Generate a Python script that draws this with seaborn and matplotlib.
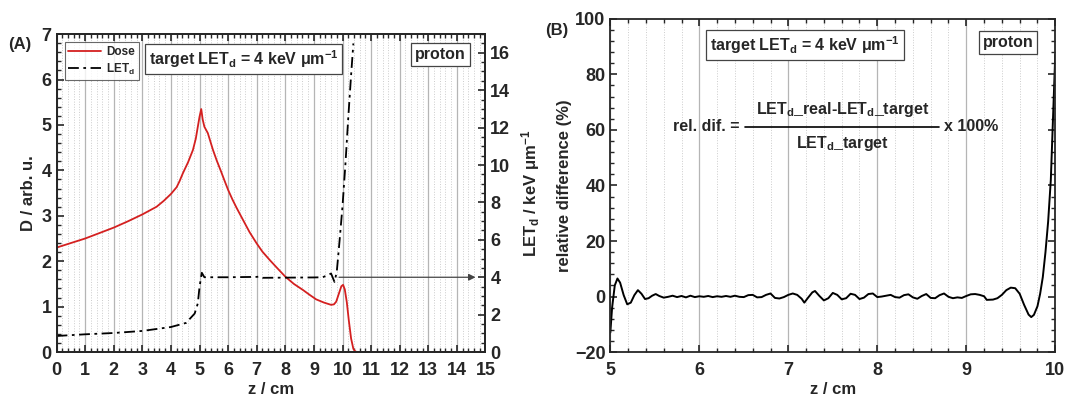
#importing the libraries
import numpy as np
import pandas as pd
import matplotlib
matplotlib.use('Agg')
import matplotlib.pyplot as plt
from matplotlib.ticker import MultipleLocator, AutoMinorLocator
from matplotlib.lines import Line2D
import seaborn as sns

#depth dose curve (panel A)
z_dose = [0, 0.5, 1, 1.5, 2, 2.5, 3, 3.5, 3.75, 4, 4.2, 4.3, 4.42, 4.6, 4.77, 4.87, 4.94, 5.0, 5.06, 5.11,
          5.17, 5.29, 5.47, 5.6, 5.75, 5.87, 6.0, 6.15, 6.3, 6.52, 6.75, 7.0, 7.2, 7.45, 7.7, 8.0, 8.3,
          8.61, 8.85, 9.08, 9.35, 9.6, 9.7, 9.78, 9.88, 9.96, 10.02, 10.08, 10.15, 10.22, 10.3, 10.38,
          10.45, 10.55, 11, 12, 13, 14, 15]
dose = [2.30, 2.40, 2.50, 2.62, 2.74, 2.88, 3.03, 3.20, 3.33, 3.48, 3.63, 3.76, 3.94, 4.18, 4.45, 4.70,
        4.96, 5.18, 5.35, 5.12, 4.96, 4.82, 4.45, 4.22, 3.98, 3.78, 3.57, 3.36, 3.17, 2.91, 2.64, 2.39,
        2.21, 2.03, 1.86, 1.66, 1.50, 1.37, 1.26, 1.16, 1.09, 1.04, 1.05, 1.11, 1.30, 1.45, 1.48, 1.38,
        1.10, 0.70, 0.30, 0.07, 0.01, 0, 0, 0, 0, 0, 0]

#LETd along depth (panel A, right axis)
z_let = [0, 1, 2, 3, 4, 4.53, 4.83, 4.94, 5.0, 5.08, 5.17, 6.0, 7.0, 7.1, 7.2, 8.0, 9.0, 9.31, 9.6,
         9.72, 9.8, 9.9, 10.0, 10.1, 10.2, 10.3, 10.38]
let_d = [0.86, 0.95, 1.02, 1.13, 1.34, 1.56, 2.06, 2.6, 3.49, 4.24, 4.0, 4.0, 4.02, 4.04, 3.97, 3.98,
         3.99, 4.0, 4.2, 3.75, 4.3, 6.0, 7.8, 10.0, 12.5, 14.8, 16.5]

#target LETd and arrow range
let_target = 4
arrow_from = 9.78
arrow_to = 14.75

#relative difference (panel B)
z_rel = [5.00, 5.02, 5.05, 5.08, 5.11, 5.15, 5.19, 5.23, 5.27, 5.31, 5.35, 5.39, 5.43, 5.47, 5.51, 5.55,
         5.6, 5.65, 5.7, 5.75, 5.8, 5.85, 5.9, 5.95, 6.0, 6.05, 6.1, 6.15, 6.2, 6.25, 6.3, 6.35, 6.4,
         6.45, 6.5, 6.55, 6.6, 6.65, 6.7, 6.75, 6.8, 6.85, 6.9, 6.95, 7.0, 7.05, 7.1, 7.15, 7.18, 7.22,
         7.27, 7.3, 7.35, 7.4, 7.45, 7.5, 7.55, 7.6, 7.65, 7.7, 7.75, 7.8, 7.85, 7.9, 7.95, 8.0, 8.05,
         8.1, 8.15, 8.2, 8.25, 8.3, 8.35, 8.4, 8.45, 8.5, 8.55, 8.6, 8.65, 8.7, 8.75, 8.8, 8.85, 8.9,
         8.95, 9.0, 9.05, 9.1, 9.15, 9.2, 9.23, 9.3, 9.35, 9.4, 9.45, 9.5, 9.55, 9.6, 9.65, 9.7, 9.73,
         9.76, 9.8, 9.83, 9.86, 9.89, 9.92, 9.95, 9.97, 9.99, 10.0]
rel_diff = [-13, -4, 4, 6.5, 5, 0.5, -2.8, -2.2, 0.5, 2.3, 1.0, -0.9, -0.6, 0.3, 0.9, 0.2,
            -0.4, -0.1, 0.3, -0.2, 0.2, -0.3, 0.3, -0.2, 0.1, -0.1, 0.2, -0.2, 0.1, -0.1, 0.2, -0.1, 0.3,
            -0.1, -0.2, 0.5, 0.6, -0.3, -0.2, 0.6, 1.1, -0.5, -0.7, -0.2, 0.6, 1.1, 0.6, -0.8, -2.2, -0.5,
            1.5, 2.0, 0.2, -1.4, -0.6, 1.3, 0.6, -1.0, -0.6, 1.0, 0.6, -0.9, -0.4, 0.9, 1.1, -0.2, 0.0,
            0.3, 0.6, -0.2, -0.4, 0.5, 0.8, -0.3, -0.8, 0.2, 0.9, -0.5, -0.6, 0.5, 1.1, -0.1, -0.6, -0.3,
            -0.5, 0.2, 0.8, 0.9, 0.6, 0.1, -1.2, -1.1, -0.6, 0.6, 2.3, 3.2, 3.0, 1.0, -3.0, -6.5, -7.4,
            -6.6, -3.5, 1.0, 7.0, 16, 27, 42, 60, 78, 87]

#style
sns.set_theme(style="ticks")
plt.rcParams['font.family'] = ['Liberation Sans', 'DejaVu Sans']
plt.rcParams['font.weight'] = 'bold'
plt.rcParams['mathtext.fontset'] = 'custom'
plt.rcParams['mathtext.rm'] = 'Liberation Sans:bold'
plt.rcParams['mathtext.bf'] = 'Liberation Sans:bold'
plt.rcParams['mathtext.default'] = 'bf'
plt.rcParams['axes.linewidth'] = 1.3

fig = plt.figure(figsize=(10.67, 4.01), dpi=100)
ax1 = fig.add_axes([0.053, 0.122, 0.402, 0.793])
ax2 = ax1.twinx()
ax3 = fig.add_axes([0.572, 0.122, 0.417, 0.831])

df_dose = pd.DataFrame({"z": z_dose, "D": dose})
df_let = pd.DataFrame({"z": z_let, "LET": let_d})
df_rel = pd.DataFrame({"z": z_rel, "rel": rel_diff})

dashdot = (0, (6, 2.5, 1.5, 2.5))

#panel A
sns.lineplot(data=df_dose, x="z", y="D", ax=ax1, color="#d42020", lw=1.3)
sns.lineplot(data=df_let, x="z", y="LET", ax=ax2, color="black", lw=1.3, linestyle=dashdot)
ax2.annotate('', xy=(arrow_to, let_target), xytext=(arrow_from, let_target),
             arrowprops=dict(arrowstyle='-|>', color='#444444', lw=0.9, mutation_scale=10))

ax1.set_xlim(0, 15)
ax1.set_ylim(0, 7)
ax2.set_ylim(0, 17)
ax1.xaxis.set_major_locator(MultipleLocator(1))
ax1.xaxis.set_minor_locator(MultipleLocator(0.2))
ax1.yaxis.set_major_locator(MultipleLocator(1))
ax1.yaxis.set_minor_locator(AutoMinorLocator(5))
ax2.yaxis.set_major_locator(MultipleLocator(2))
ax2.yaxis.set_minor_locator(AutoMinorLocator(4))
ax1.set_xlabel("z / cm", fontsize=12, fontweight='bold', labelpad=2)
ax1.set_ylabel("D / arb. u.", fontsize=12, fontweight='bold', labelpad=4)
ax2.set_ylabel(r"LET$_d$ / keV μm$^{-1}$", fontsize=12, fontweight='bold', labelpad=6)
ax1.grid(True, axis='x', which='major', color='#b5b5b5', lw=0.9)
ax1.grid(True, axis='x', which='minor', color='#cccccc', lw=0.7, linestyle=':')
ax1.tick_params(which='both', direction='in', top=True, labelsize=13)
ax1.tick_params(axis='x', pad=7)
ax1.tick_params(which='major', length=5, width=1.2)
ax1.tick_params(which='minor', length=3, width=1)
ax2.tick_params(which='both', direction='in', labelsize=13)
ax2.tick_params(which='major', length=5, width=1.2)
ax2.tick_params(which='minor', length=3, width=1)
for lab in ax1.get_xticklabels() + ax1.get_yticklabels() + ax2.get_yticklabels():
    lab.set_fontweight('bold')

handles = [Line2D([], [], color="#d42020", lw=1.3),
           Line2D([], [], color="black", lw=1.3, linestyle=dashdot)]
leg = ax2.legend(handles, ["Dose", r"LET$_d$"], loc='upper left', fontsize=8.5, frameon=True,
                 fancybox=False, edgecolor='#444444', borderpad=0.3, handlelength=2.8,
                 labelspacing=0.3, borderaxespad=0.7, handletextpad=0.4)
leg.get_frame().set_linewidth(0.8)

box = dict(boxstyle='square,pad=0.25', facecolor='white', edgecolor='#444444', lw=0.9)
ax2.text(0.436, 0.921, r"target LET$_d$ = 4 keV μm$^{-1}$", transform=ax1.transAxes, ha='center',
         va='center', fontsize=11.5, fontweight='bold', bbox=box)
ax2.text(0.895, 0.935, "proton", transform=ax1.transAxes, ha='center', va='center',
         fontsize=11.5, fontweight='bold', bbox=box)

#panel B
sns.lineplot(data=df_rel, x="z", y="rel", ax=ax3, color="black", lw=1.4)
ax3.set_xlim(5, 10)
ax3.set_ylim(-20, 100)
ax3.xaxis.set_major_locator(MultipleLocator(1))
ax3.xaxis.set_minor_locator(MultipleLocator(0.2))
ax3.yaxis.set_major_locator(MultipleLocator(20))
ax3.yaxis.set_minor_locator(AutoMinorLocator(5))
ax3.set_xlabel("z / cm", fontsize=12, fontweight='bold', labelpad=2)
ax3.set_ylabel("relative difference (%)", fontsize=12, fontweight='bold', labelpad=2)
ax3.grid(True, axis='x', which='major', color='#b5b5b5', lw=0.9)
ax3.grid(True, axis='x', which='minor', color='#cccccc', lw=0.7, linestyle=':')
ax3.tick_params(which='both', direction='in', top=True, right=True, labelsize=13)
ax3.tick_params(axis='x', pad=7)
ax3.tick_params(which='major', length=5, width=1.2)
ax3.tick_params(which='minor', length=3, width=1)
for lab in ax3.get_xticklabels() + ax3.get_yticklabels():
    lab.set_fontweight('bold')

ax3.text(0.438, 0.922, r"target LET$_d$ = 4 keV μm$^{-1}$", transform=ax3.transAxes, ha='center',
         va='center', fontsize=11.5, fontweight='bold', bbox=box)
ax3.text(0.894, 0.928, "proton", transform=ax3.transAxes, ha='center', va='center',
         fontsize=11.5, fontweight='bold', bbox=box)

#formula
ax3.text(0.29, 0.676, "rel. dif. =", transform=ax3.transAxes, ha='right', va='center',
         fontsize=11.5, fontweight='bold')
ax3.plot([0.303, 0.738], [0.676, 0.676], transform=ax3.transAxes, color='black', lw=1.2)
ax3.text(0.521, 0.700, r"LET$_d$_real-LET$_d$_target", transform=ax3.transAxes, ha='center',
         va='bottom', fontsize=11.5, fontweight='bold')
ax3.text(0.521, 0.655, r"LET$_d$_target", transform=ax3.transAxes, ha='center', va='top',
         fontsize=11.5, fontweight='bold')
ax3.text(0.75, 0.676, "x 100%", transform=ax3.transAxes, ha='left', va='center',
         fontsize=11.5, fontweight='bold')

#panel labels
fig.text(0.008, 0.89, "(A)", fontsize=12, fontweight='bold', va='center')
fig.text(0.511, 0.925, "(B)", fontsize=12, fontweight='bold', va='center')

plt.savefig("out.png", dpi=100)
